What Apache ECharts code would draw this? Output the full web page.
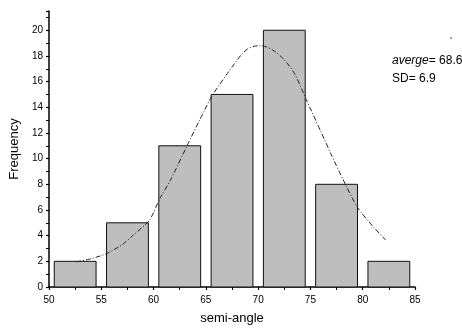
<!DOCTYPE html>
<html>
<head>
<meta charset="utf-8">
<script src="https://cdn.jsdelivr.net/npm/echarts@6/dist/echarts.min.js"></script>
<style>html,body{margin:0;padding:0;background:#fff;}#c{width:462px;height:331px;}</style>
</head>
<body>
<div id="c"></div>
<script>
// Histogram bins (semi-angle)
var binStart = [50.5, 55.5, 60.5, 65.5, 70.5, 75.5, 80.5];
var binEnd   = [54.5, 59.5, 64.5, 69.5, 74.5, 79.5, 84.5];
var frequency = [2, 5, 11, 15, 20, 8, 2];

// Fitted curve, points
var curveX = [52.6, 54.0, 55.5, 57.0, 58.0, 59.6, 60.6, 61.6, 63.2, 64.4, 65.6, 67.2, 68.4, 69.0, 69.6, 70.2, 70.8, 71.6, 72.5, 73.5, 74.6, 76.0, 77.0, 78.1, 79.5, 81.0, 82.2];
var curveY = [1.95, 2.2, 2.6, 3.3, 4.0, 5.2, 6.9, 8.3, 11.0, 13.0, 14.9, 16.8, 18.1, 18.55, 18.75, 18.8, 18.7, 18.35, 17.7, 16.6, 14.6, 12.1, 10.3, 8.4, 6.2, 4.7, 3.66];

var xTicks = [50, 55, 60, 65, 70, 75, 80, 85];
var yTicks = [0, 2, 4, 6, 8, 10, 12, 14, 16, 18, 20];

var chart = echarts.init(document.getElementById('c'), null, {renderer: 'canvas'});
var barData = binStart.map(function (s, i) { return [s, binEnd[i], frequency[i]]; });
var curveData = curveX.map(function (x, i) { return [x, curveY[i]]; });
var font = 'Liberation Sans, Arial, sans-serif';

chart.setOption({
  animation: false,
  backgroundColor: '#fff',
  grid: {left: 45, right: 47, top: 11, bottom: 44},
  xAxis: {
    type: 'value', min: xTicks[0], max: xTicks[xTicks.length - 1], interval: 5,
    name: 'semi-angle', nameLocation: 'middle', nameGap: 25,
    nameTextStyle: {fontFamily: font, fontSize: 13, color: '#000'},
    axisLine: {lineStyle: {color: '#000', width: 1.5}},
    axisTick: {inside: false, length: 3, lineStyle: {color: '#000', width: 1.2}},
    minorTick: {show: true, splitNumber: 2, length: 3, lineStyle: {color: '#000', width: 1}},
    axisLabel: {fontFamily: font, fontSize: 10, color: '#000', margin: 8},
    splitLine: {show: false}
  },
  yAxis: {
    type: 'value', min: 0, max: 21.5, interval: 2,
    name: 'Frequency', nameLocation: 'middle', nameGap: 28, nameRotate: 90,
    nameTextStyle: {fontFamily: font, fontSize: 13, color: '#000'},
    axisLine: {lineStyle: {color: '#000', width: 1.5}},
    axisTick: {inside: false, length: 3, lineStyle: {color: '#000', width: 1.2}},
    minorTick: {show: true, splitNumber: 2, length: 3, lineStyle: {color: '#000', width: 1}},
    axisLabel: {fontFamily: font, fontSize: 10, color: '#000', margin: 6, showMaxLabel: false,
      formatter: function (v) { return yTicks.indexOf(v) >= 0 ? String(v) : ''; }},
    splitLine: {show: false}
  },
  series: [
    {
      type: 'custom',
      data: barData,
      encode: {x: [0, 1], y: 2},
      renderItem: function (params, api) {
        var p0 = api.coord([api.value(0), 0]);
        var p1 = api.coord([api.value(1), api.value(2)]);
        return {
          type: 'rect',
          shape: {x: p0[0], y: p1[1], width: p1[0] - p0[0], height: p0[1] - p1[1]},
          style: {fill: '#bebebe', stroke: '#111', lineWidth: 1}
        };
      },
      z: 2
    },
    {
      type: 'line',
      data: curveData,
      smooth: 0.25,
      showSymbol: false,
      lineStyle: {color: '#222', width: 1, type: [5, 2, 1, 2]},
      z: 3
    }
  ],
  graphic: [
    {type: 'text', left: 392, top: 55, style: {
      text: '{i|averge}= 68.6', fill: '#000',
      rich: {i: {fontStyle: 'italic', fontFamily: font, fontSize: 12, fill: '#000'}},
      fontFamily: font, fontSize: 12}},
    {type: 'text', left: 392, top: 73, style: {text: 'SD= 6.9', fill: '#000', fontFamily: font, fontSize: 12}},
    {type: 'circle', shape: {cx: 451, cy: 38, r: 0.8}, style: {fill: '#333'}}
  ]
});
</script>
</body>
</html>
